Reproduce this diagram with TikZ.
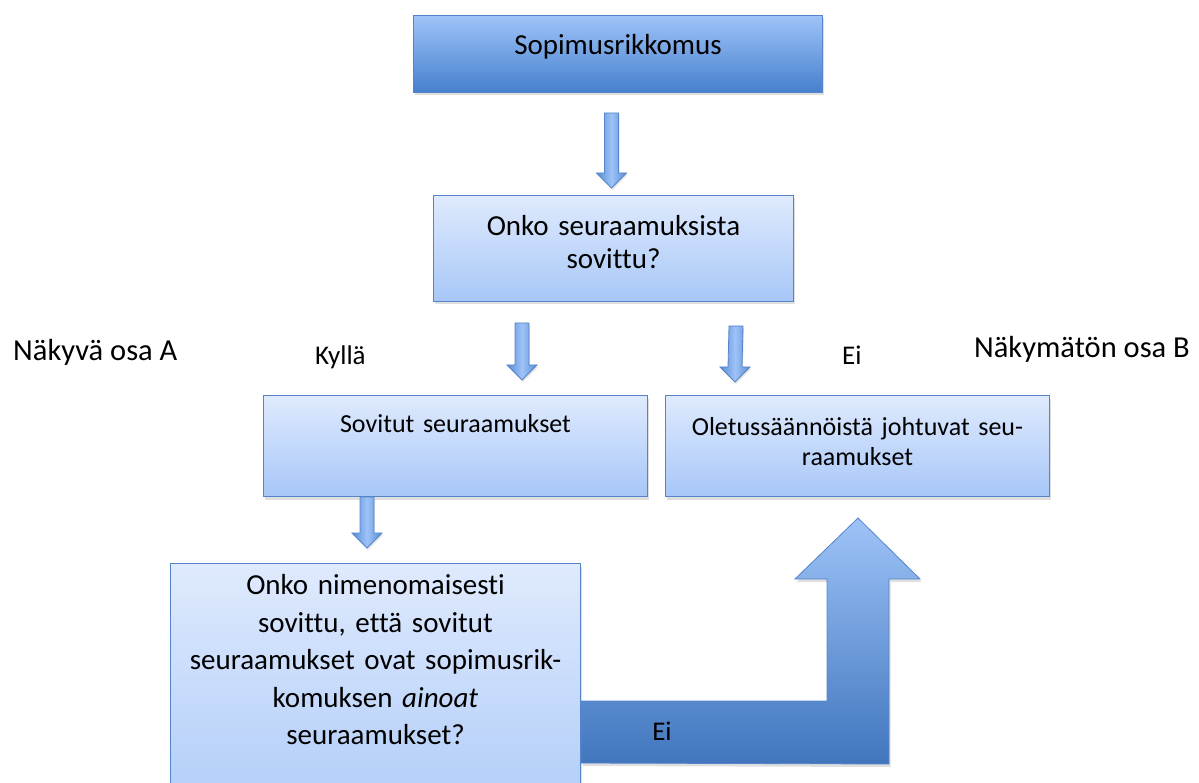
\documentclass[tikz,border=0pt]{standalone}
\usepackage{fontspec}
\setmainfont{Carlito}[Ligatures=NoCommon]
\usetikzlibrary{calc, shadows}
\definecolor{rim}{HTML}{5584C8}
\definecolor{darkblue}{HTML}{4680CE}
\definecolor{midblue}{HTML}{9EC3F8}
\definecolor{paleblue}{HTML}{DFEAFD}
\definecolor{softblue}{HTML}{A7C7F8}

\begin{document}
\begin{tikzpicture}[x=1pt, y=-1pt,
box/.style = {% frame of every box
    draw=rim, line width=1pt, inner sep=0pt, align=center,
    anchor=north west,
    drop shadow={shadow xshift=1.5pt, shadow yshift=-3pt, opacity=0.25},
            },
topbox/.style = {box, top color=midblue, bottom color=darkblue},
qbox/.style = {box, top color=paleblue, bottom color=softblue},
barrow/.style = {% small block arrows
    draw=rim, line width=0.8pt, left color=darkblue!90,
    right color=darkblue!90, middle color=midblue,
    drop shadow={shadow xshift=1pt, shadow yshift=-2pt, opacity=0.2},
            },
bigarrow/.style = {draw=rim, line width=0.8pt,
    top color=midblue, bottom color=darkblue!92!black,
    drop shadow={shadow xshift=1.5pt, shadow yshift=-3pt, opacity=0.25},
            },
lbl/.style = {inner sep=0pt, font=\fontsize{30.5}{36}\selectfont},
yn/.style = {inner sep=0pt, font=\fontsize{27}{32}\selectfont},
                    ]
\useasboundingbox (0,0) rectangle (1199,783);
\clip (0,0) rectangle (1199,783);
% boxes
\node[topbox, text width=409, text height=39, text depth=38,
      font=\fontsize{29}{35}\selectfont] (rikko) at (413,15) {Sopimusrikkomus};
\node[qbox, text width=360, text height=40, text depth=66,
      font=\fontsize{29}{33}\selectfont] (kysy) at (433,195)
      {Onko seuraamuksista\\ sovittu?};
\node[qbox, text width=384, text height=37, text depth=64,
      font=\fontsize{26}{30}\selectfont] (sovitut) at (263,395)
      {Sovitut seuraamukset};
\node[qbox, text width=384, text height=40, text depth=61,
      font=\fontsize{26}{30}\selectfont] (oletus) at (665,395)
      {Oletussäännöistä johtuvat seu-\\raamukset};
\node[qbox, text width=410, text height=31, text depth=260,
      font=\fontsize{29}{37.5}\selectfont] (erit) at (170,563)
      {Onko nimenomaisesti\\ sovittu, että sovitut\\ seuraamukset ovat sopimusrik-\\
       komuksen \textit{ainoat}\\ seuraamukset?};
% labels
\node[lbl, anchor=base west] (nakyva) at (13,360) {Näkyvä osa A};
\node[lbl, anchor=base east] (nakymaton) at (1190,358) {Näkymätön osa B};
\node[yn, anchor=base west] (kylla) at (315,364) {Kyllä};
\node[yn, anchor=base west] (ei) at (842,365) {Ei};
% small arrows
\coordinate (a1s) at ($(kysy.north |- rikko.south)+(-2,20)$);
\coordinate (a1t) at ($(kysy.north)+(-2,-7)$);
\coordinate (a2s) at ($(kysy.south west)+(89,21)$);
\coordinate (a2t) at ($(sovitut.north west)+(259,-15)$);
\coordinate (a3s) at ($(kysy.south east)+(-58,24)$);
\coordinate (a3t) at ($(oletus.north west)+(70,-13)$);
\coordinate (a4s) at ($(sovitut.south west)+(104,0)$);
\coordinate (a4t) at ($(erit.north west)+(197,-15)$);
\foreach \s/\t in {a1s/a1t, a2s/a2t, a3s/a3t, a4s/a4t}{
  \draw[barrow] ($(\s)+(-7,0)$) -- ($(\s)+(7,0)$) -- ($(\t)+(7,-15)$)
     -- ($(\t)+(15,-15)$) -- (\t) -- ($(\t)+(-15,-15)$)
     -- ($(\t)+(-7,-15)$) -- cycle;
}
% big bent arrow
\coordinate (tip) at ($(oletus.south west)+(193,21)$);
\coordinate (band) at ($(erit.north east)+(0,138)$);
\draw[bigarrow] (band) -- (band -| {$(tip)+(-31,0)$}) -- ($(tip)+(-31,61)$)
   -- ($(tip)+(-63,61)$) -- (tip) -- ($(tip)+(62,61)$) -- ($(tip)+(31,61)$)
   -- ($(tip)+(31,246)$) -- ($(band)+(0,62)$) -- cycle;
\node[yn, font=\fontsize{27}{30}\selectfont] (eiala) at ($(band)+(81,30)$) {Ei};
\end{tikzpicture}
\end{document}
